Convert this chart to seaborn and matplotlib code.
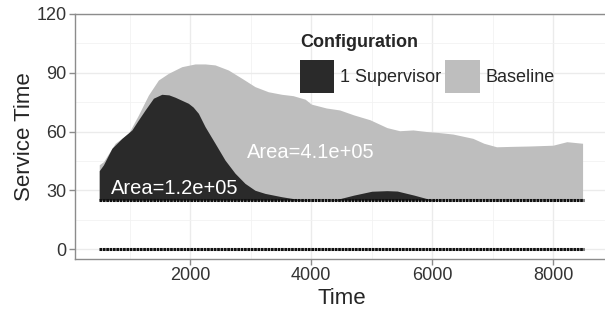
import numpy as np
import pandas as pd
import matplotlib
matplotlib.use('Agg')
import matplotlib.pyplot as plt
from matplotlib.patches import Patch
from matplotlib.ticker import MultipleLocator
import seaborn as sns

# Curvas
baseline_time = [500, 570, 763, 983, 1147, 1312, 1477, 1642, 1863, 2082, 2250, 2412,
                 2632, 2853, 3072, 3291, 3512, 3700, 3900, 4000, 4250, 4470, 4700,
                 4970, 5250, 5460, 5680, 5900, 6100, 6340, 6670, 6850, 7060, 7300,
                 7600, 7990, 8220, 8480]
baseline_service = [43, 44.6, 54, 59, 68.4, 78.6, 86.3, 89.7, 93.1, 94.5, 94.5, 94,
                    91.4, 87.2, 82.9, 80.3, 79, 78.3, 76.5, 74, 72, 71, 68.5,
                    66, 62, 60.4, 60.8, 60, 59.5, 58.7, 56.5, 54, 52.2, 52.4,
                    52.6, 53, 54.8, 54]

sup_time = [500, 570, 709, 874, 1039, 1147, 1258, 1395, 1533, 1650, 1753, 1972,
            2050, 2137, 2247, 2412, 2577, 2742, 2907, 3072, 3237, 3512, 3750,
            4000, 4250, 4420, 4700, 5000, 5250, 5420, 5700, 5960, 6200, 8480]
sup_service = [40, 43, 51.4, 56.5, 60.8, 65.9, 71, 77, 79, 78.7, 77.5, 74.4,
               72.5, 69.3, 62.5, 54, 45.4, 38.7, 33.5, 30, 28.4, 26.7, 25.5,
               25, 25, 25.3, 27.5, 29.5, 29.8, 29.6, 27.5, 25.3, 25, 25]

configs = ['1 Supervisor', 'Baseline']
fill_colors = ['#2a2a2a', '#bebebe']
areas = ['Area=1.2e+05', 'Area=4.1e+05']
area_pos = [(1745, 31), (4000, 49.5)]

floor_level = 25
guide_levels = [0, 25]
time_range = [500, 8500]

sns.set_theme(style='whitegrid')
plt.rcParams['font.family'] = ['Liberation Sans', 'DejaVu Sans']

fig = plt.figure(figsize=(6.05, 3.09), dpi=100)
ax = fig.add_axes([75 / 605, 1 - 259 / 309, 533 / 605, 245 / 309])

# Áreas (baseline detrás, supervisor delante)
ax.fill_between(baseline_time, floor_level, baseline_service, color=fill_colors[1], lw=0, zorder=2)
ax.fill_between(sup_time, floor_level, sup_service, color=fill_colors[0], lw=0, zorder=3)

# Líneas punteadas en 0 y 25
guides = pd.DataFrame({
    'time': time_range * len(guide_levels),
    'level': np.repeat(guide_levels, len(time_range)),
})
for lvl, g in guides.groupby('level'):
    sns.lineplot(data=g, x='time', y='level', ax=ax, color='#111111', lw=2.2,
                 linestyle=(0, (0.9, 0.2)), zorder=4)

for txt, (x, y) in zip(areas, area_pos):
    ax.text(x, y, txt, color='white', fontsize=14.5, ha='center', va='center', zorder=5)

ax.set_xlim(100, 8900)
ax.set_ylim(-5.1, 120)
ax.set_xticks([2000, 4000, 6000, 8000])
ax.set_yticks([0, 30, 60, 90, 120])
ax.xaxis.set_minor_locator(MultipleLocator(1000))
ax.yaxis.set_minor_locator(MultipleLocator(15))
ax.grid(which='major', color='#ebebeb', lw=1.0, zorder=0)
ax.grid(which='minor', color='#f2f2f2', lw=0.6, zorder=0)
ax.set_axisbelow(True)

for s in ax.spines.values():
    s.set_color('#8c8c8c')
    s.set_linewidth(1.0)
ax.tick_params(axis='both', which='major', length=4, width=1, color='#8c8c8c',
               labelsize=13, labelcolor='#333333', pad=2, left=True, bottom=True)
ax.tick_params(which='minor', length=0)

ax.set_xlabel('Time', fontsize=16, labelpad=3)
ax.set_ylabel('Service Time', fontsize=16, labelpad=1)

handles = [Patch(facecolor=c, edgecolor='none') for c in fill_colors]
leg = ax.legend(handles, configs, title='Configuration', ncol=2, frameon=False,
                fontsize=13, title_fontsize=13, alignment='left',
                handlelength=1.9, handleheight=2.45, handletextpad=0.3,
                columnspacing=0.25, borderpad=0, borderaxespad=0,
                loc='upper left', bbox_to_anchor=(300 / 605, 1 - 34 / 309),
                bbox_transform=fig.transFigure)
leg.get_title().set_fontweight('bold')

fig.savefig('out.png', dpi=100)
